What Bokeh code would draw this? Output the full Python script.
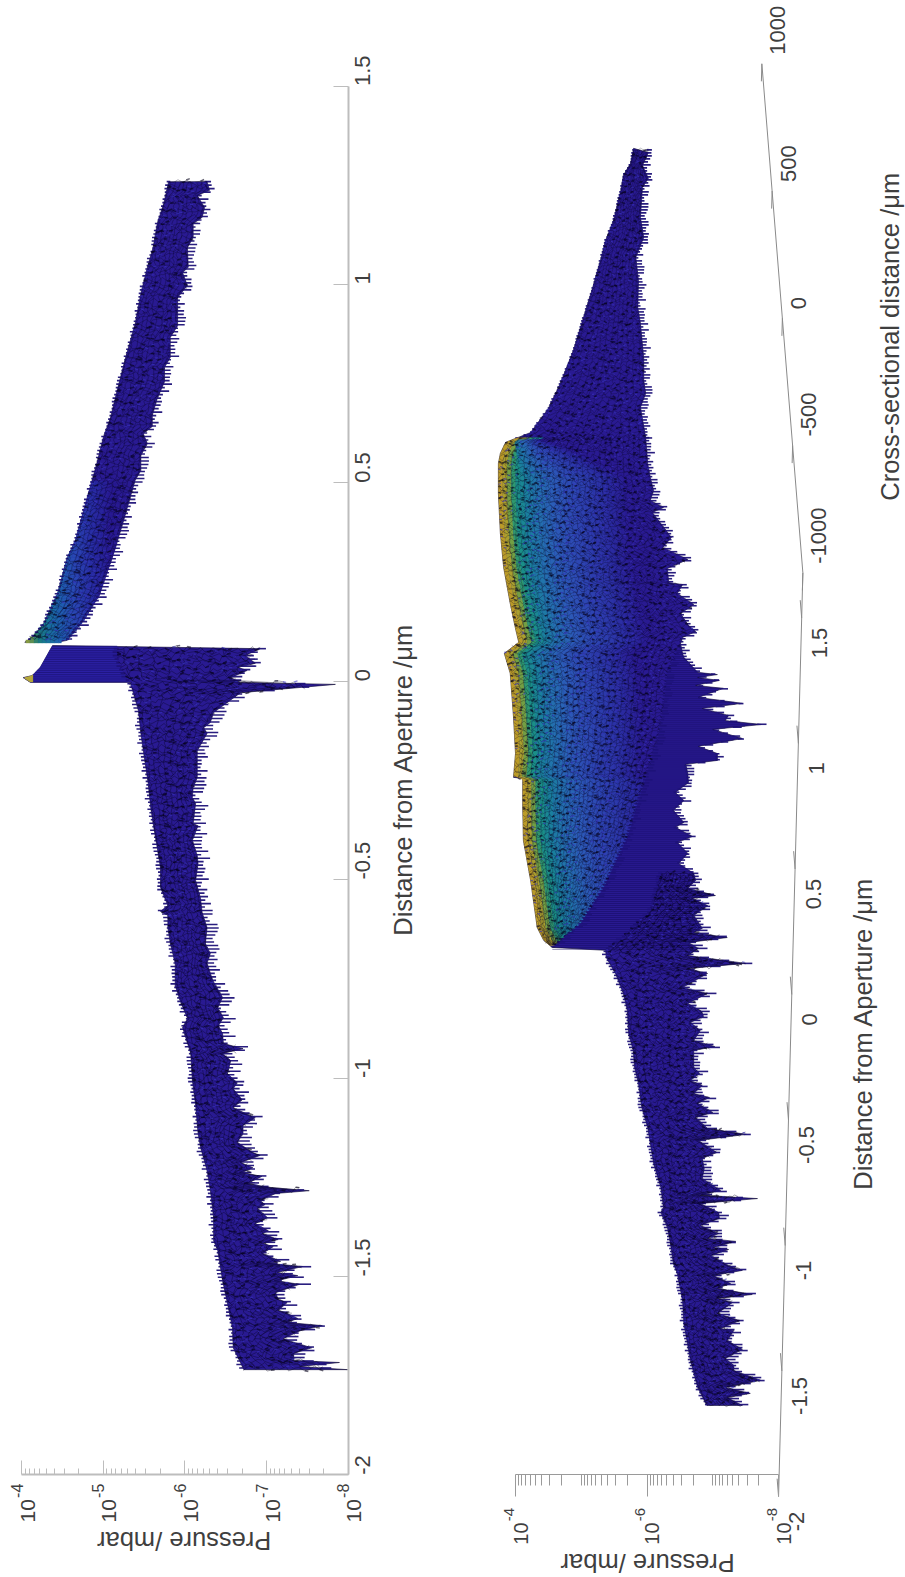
import math
import numpy as np
from bokeh.core.properties import value
from bokeh.embed import file_html
from bokeh.layouts import row
from bokeh.models import FixedTicker, Range1d
from bokeh.plotting import figure
from bokeh.resources import INLINE

# ---------- values (distance in um, pressure as log10 mbar) ----------
PRESSURE_TICKS = [-4, -5, -6, -7, -8]
DISTANCE_TICKS = [-2, -1.5, -1, -0.5, 0, 0.5, 1, 1.5]
DISTANCE_LABELS = ["-2", "-1.5", "-1", "-0.5", "0", "0.5", "1", "1.5"]
CROSS_TICKS = [-1000, -500, 0, 500, 1000]
CROSS_LABELS = ["-1000", "-500", "0", "500", "1000"]

# top panel: wing beyond the aperture
TOP_UP_LEFT_D = [1.259,1.204,1.153,1.093,1.043,0.977,0.901,0.813,0.733,0.665,0.614,0.556,0.488,0.423,0.355,0.312,0.221,0.145,0.115,0.098]
TOP_UP_LEFT_E = [-5.80,-5.74,-5.66,-5.61,-5.54,-5.46,-5.39,-5.27,-5.17,-5.09,-5.00,-4.93,-4.84,-4.75,-4.66,-4.56,-4.44,-4.27,-4.15,-4.04]
TOP_UP_RIGHT_D = [1.259,1.237,1.224,1.194,1.169,1.153,1.118,1.093,1.043,1.030,0.997,0.967,0.927,0.896,0.866,0.816,0.791,0.755,0.712,0.670,0.642,0.624,0.599,0.569,0.531,0.506,0.463,0.405,0.337,0.312,0.246,0.216,0.153,0.103,0.098]
TOP_UP_RIGHT_E = [-6.27,-6.30,-6.15,-6.24,-6.21,-6.10,-6.10,-6.03,-6.04,-5.97,-6.03,-5.91,-5.91,-5.91,-5.82,-5.82,-5.75,-5.75,-5.66,-5.60,-5.60,-5.49,-5.54,-5.46,-5.46,-5.39,-5.33,-5.25,-5.15,-5.11,-5.00,-4.95,-4.76,-4.56,-4.44]
# top panel: wing before the aperture
TOP_LOW_LEFT_D = [0.090,0.035,0.014,0.009,-0.003,-0.003,-0.031,-0.074,-0.132,-0.175,-0.258,-0.318,-0.359,-0.419,-0.470,-0.520,-0.565,-0.580,-0.590,-0.621,-0.661,-0.711,-0.767,-0.805,-0.850,-0.873,-0.938,-1.006,-1.069,-1.140,-1.175,-1.233,-1.283,-1.352,-1.410,-1.435,-1.511,-1.569,-1.629,-1.680,-1.735]
TOP_LOW_LEFT_E = [-4.38,-4.23,-4.13,-4.02,-4.11,-5.33,-5.37,-5.43,-5.46,-5.49,-5.55,-5.58,-5.61,-5.66,-5.70,-5.70,-5.79,-5.70,-5.79,-5.79,-5.82,-5.88,-5.88,-5.94,-6.03,-5.97,-6.07,-6.09,-6.13,-6.16,-6.19,-6.27,-6.31,-6.35,-6.35,-6.40,-6.46,-6.52,-6.58,-6.59,-6.72]
TOP_LOW_RIGHT_D = [0.082,0.065,0.045,0.035,0.027,0.009,-0.003,-0.008,-0.029,-0.079,-0.104,-0.117,-0.132,-0.175,-0.243,-0.268,-0.293,-0.308,-0.359,-0.364,-0.401,-0.439,-0.460,-0.502,-0.547,-0.583,-0.621,-0.661,-0.686,-0.711,-0.754,-0.797,-0.823,-0.848,-0.868,-0.888,-0.913,-0.926,-0.938,-0.956,-0.989,-1.012,-1.027,-1.055,-1.075,-1.100,-1.120,-1.140,-1.162,-1.188,-1.195,-1.213,-1.226,-1.238,-1.248,-1.266,-1.276,-1.284,-1.291,-1.309,-1.319,-1.329,-1.352,-1.367,-1.385,-1.392,-1.407,-1.417,-1.425,-1.442,-1.462,-1.467,-1.475,-1.490,-1.498,-1.511,-1.520,-1.541,-1.558,-1.566,-1.586,-1.591,-1.606,-1.616,-1.624,-1.637,-1.657,-1.667,-1.680,-1.694,-1.712,-1.717,-1.727,-1.735]
TOP_LOW_RIGHT_E = [-6.92,-6.74,-6.86,-6.65,-6.76,-6.56,-6.68,-7.84,-6.68,-6.35,-6.31,-6.23,-6.27,-6.15,-6.15,-6.10,-6.09,-6.13,-6.10,-6.16,-6.09,-6.15,-6.16,-6.13,-6.19,-6.21,-6.27,-6.25,-6.31,-6.27,-6.34,-6.46,-6.40,-6.47,-6.41,-6.46,-6.47,-6.71,-6.46,-6.56,-6.52,-6.64,-6.59,-6.70,-6.59,-6.86,-6.71,-6.71,-6.64,-6.83,-6.92,-6.68,-6.83,-6.70,-6.94,-6.76,-7.05,-7.52,-7.11,-6.92,-6.98,-6.89,-7.01,-6.86,-7.02,-6.95,-7.14,-6.96,-7.08,-6.95,-7.17,-7.02,-7.44,-7.13,-7.38,-7.13,-7.40,-7.11,-7.14,-7.25,-7.14,-7.23,-7.38,-7.25,-7.68,-7.41,-7.20,-7.35,-7.55,-7.33,-7.33,-7.89,-7.41,-7.99]
TOP_STEP_D = [0.085,0.052,-0.003]
TOP_STEP_E = [-5.17,-5.17,-5.31]

# lower panel (silhouette, distance as seen at cross-section 0)
LOW_LEFT_D = [2.356,2.295,2.246,2.185,2.063,1.982,1.900,1.778,1.657,1.535,1.400,1.299,1.201,1.161,1.116,1.075,0.953,0.791,0.652,0.506,0.404,0.348,0.303,0.222,0.043,-0.104,-0.201,-0.205,-0.323,-0.457,-0.620,-0.811,-0.864,-0.892]
LOW_LEFT_E = [-5.795,-5.75,-5.64,-5.60,-5.49,-5.37,-5.29,-5.16,-5.02,-4.88,-4.68,-4.50,-4.23,-3.85,-3.77,-3.74,-3.74,-3.77,-3.82,-3.92,-4.00,-4.05,-3.83,-3.92,-3.97,-4.00,-3.97,-4.11,-4.11,-4.12,-4.23,-4.33,-4.43,-4.56]
LOW_WING_D = [-0.904,-0.933,-0.998,-1.079,-1.148,-1.242,-1.311,-1.380,-1.445,-1.543,-1.624,-1.689,-1.770,-1.868,-1.949,-1.970,-2.030,-2.104,-2.177,-2.217,-2.327,-2.421,-2.571,-2.681,-2.754]
LOW_WING_E = [-5.37,-5.38,-5.52,-5.64,-5.70,-5.72,-5.79,-5.81,-5.87,-5.92,-6.01,-6.05,-6.10,-6.21,-6.25,-6.21,-6.31,-6.36,-6.40,-6.46,-6.54,-6.56,-6.66,-6.77,-6.91]
LOW_RIGHT_D = [2.339,2.287,2.234,2.197,2.075,1.994,1.913,1.819,1.709,1.644,1.502,1.413,1.360,1.303,1.181,1.075,1.018,0.965,0.925,0.896,0.876,0.831,0.774,0.734,0.685,0.648,0.591,0.583,0.547,0.502,0.465,0.417,0.392,0.368,0.343,0.303,0.287,0.226,0.217,0.205,0.193,0.173,0.161,0.124,0.100,0.079,0.051,0.030,0.014,-0.006,-0.043,-0.075,-0.104,-0.132,-0.148,-0.185,-0.222,-0.262,-0.295,-0.335,-0.384,-0.404,-0.441,-0.465,-0.510,-0.551,-0.591,-0.620,-0.652,-0.681,-0.693,-0.722,-0.762,-0.815,-0.831,-0.852,-0.872,-0.896,-0.925,-0.957,-0.978,-0.998,-1.055,-1.079,-1.120,-1.152,-1.173,-1.197,-1.230,-1.270,-1.295,-1.311,-1.380,-1.404,-1.433,-1.453,-1.486,-1.502,-1.526,-1.563,-1.583,-1.628,-1.652,-1.677,-1.726,-1.750,-1.791,-1.831,-1.880,-1.900,-1.913,-1.933,-1.970,-1.994,-2.022,-2.055,-2.075,-2.087,-2.112,-2.120,-2.144,-2.185,-2.205,-2.226,-2.258,-2.278,-2.303,-2.319,-2.335,-2.380,-2.409,-2.441,-2.449,-2.490,-2.526,-2.563,-2.591,-2.612,-2.652,-2.681,-2.705,-2.722,-2.754]
LOW_RIGHT_E = [-6.02,-5.93,-6.02,-5.93,-5.90,-5.95,-5.83,-5.87,-5.86,-5.90,-5.95,-5.95,-5.98,-5.90,-5.98,-6.01,-6.05,-6.10,-6.05,-6.25,-6.08,-6.21,-6.37,-6.24,-6.62,-6.31,-6.33,-6.54,-6.46,-6.71,-6.51,-6.63,-6.74,-6.54,-6.51,-6.54,-6.56,-6.77,-7.07,-6.77,-7.10,-6.74,-7.16,-6.78,-7.45,-6.84,-7.24,-7.19,-7.74,-7.00,-7.45,-6.78,-7.07,-7.07,-6.59,-6.62,-6.63,-6.43,-6.56,-6.40,-6.56,-6.43,-6.69,-6.46,-6.62,-6.48,-6.71,-6.74,-6.62,-7.04,-6.69,-6.92,-6.71,-6.84,-6.71,-7.22,-6.63,-6.78,-6.62,-7.50,-6.62,-6.92,-6.54,-6.92,-6.62,-6.83,-6.86,-6.66,-6.81,-6.71,-7.03,-6.71,-6.71,-6.80,-6.66,-6.84,-6.71,-6.95,-6.77,-7.00,-6.74,-6.92,-7.51,-6.78,-7.06,-6.84,-6.87,-6.84,-7.12,-6.81,-7.68,-6.81,-7.09,-7.10,-6.81,-7.09,-6.92,-7.35,-7.01,-7.24,-6.97,-7.24,-7.45,-7.01,-7.27,-7.07,-7.60,-7.07,-7.30,-7.07,-7.41,-7.12,-7.32,-7.22,-7.45,-7.19,-7.32,-7.32,-7.73,-7.19,-7.57,-7.22,-7.45]
LOW_INNER_D = [0.315,0.222,0.083,-0.051,-0.226,-0.445,-0.648,-0.795,-0.892]
LOW_INNER_E = [-6.46,-6.31,-6.25,-6.16,-5.95,-5.70,-5.34,-4.99,-4.56]
LOW_BACK_D = [-0.591,-0.742,-0.843,-0.904]
LOW_BACK_E = [-6.21,-6.05,-5.67,-5.37]

# ---------- style ----------
FONT = "Liberation Sans"
TEXT = "#3f3f3f"
BASE = "#291a92"
FLAT = "#2b20a4"
TOP_LEVELS = [-4.0, -4.1, -4.2, -4.3, -4.45, -4.65, -4.85, -5.1]
TOP_RGB = [(181,168,58), (120,150,70), (30,125,120), (24,120,150), (30,100,175), (42,72,180), (42,48,168), (41,26,146)]
BAND_STOPS = [0, .11, .17, .23, .30, .43, .61, .84, 1.14, 1.52, 1.98]
BAND_RGB = [(196,154,37), (168,160,48), (111,159,69), (47,154,112), (26,143,138), (27,127,159), (36,112,176), (44,92,184), (46,72,180), (44,52,168), (41,26,146)]
# hand-typed irregular offsets that roughen the wire-frame cells (drawing texture only)
GRAIN = [.31,-.72,.55,-.18,.93,-.44,.12,-.86,.67,-.29,.41,-.63,.82,-.07,.24,-.95,.58,-.36,.76,-.51,.03,.89,-.22,-.68,.47,.15,-.79,.62,-.11,.35,-.9,.71,-.4,.2,.97,-.57,-.02,.52,-.83,.28,.64,-.33,-.75,.85,.09,-.48,.38,-.16,.78,-.61,.44,-.97,.17,.6,-.26,.91,-.7,.06,-.38,.5,-.14]
G = len(GRAIN)


def edge(q, D, E):
    D, E = np.asarray(D, float), np.asarray(E, float)
    o = np.argsort(D, kind="stable")
    return np.interp(q, D[o], E[o])


def outline(p, D, E):
    p.patch(10.0 ** np.asarray(E), D, fill_color=BASE, line_color="#0c0630", line_width=0.7, line_alpha=0.85)


def teeth(p, ds, a, fringe, inward, seed):
    tx, ty = [], []
    for i, (d, b) in enumerate(zip(ds, a)):
        g = GRAIN[(i * 5 + seed) % G]
        tx.append(list(10.0 ** np.array([b + inward, b - fringe * (0.25 + abs(g))])))
        ty.append([d, d])
    p.multi_line(tx, ty, line_color="#1d1278", line_width=1.6, line_alpha=0.95)


def mesh(p, d_hi, d_lo, dstep, eL, eR, espace, ncols, alpha=0.5, fringe=0.10, lfringe=0.0, color_light="#3a34c4"):
    ds = np.arange(d_hi, d_lo, -dstep)
    L, R = eL(ds), eR(ds)
    xs, ys, dx, dy, lx, ly = [], [], [], [], [], []
    for i, (d, a, b) in enumerate(zip(ds, L, R)):
        n = max(2, int((a - b) / espace))
        e_row, d_row = [], []
        for j in range(n + 1):
            g1, g2 = GRAIN[(i * 7 + j * 3) % G], GRAIN[(i * 11 + j * 5 + 17) % G]
            e_v = a + (b - a) * j / n + (0.45 * espace * g1 if 0 < j < n else 0)
            d_v = d + dstep * 0.9 * g2
            e_row.append(e_v)
            d_row.append(d_v)
            if j < n:
                g3 = GRAIN[(i * 13 + j * 17 + 5) % G]
                if g3 > 0.5:
                    dx.append(list(10.0 ** np.array([e_v, e_v - espace * 0.8])))
                    dy.append([d_v, d_v + dstep * 0.5 * g1])
                elif g3 < -0.72:
                    lx.append(list(10.0 ** np.array([e_v, e_v - espace * 0.7])))
                    ly.append([d_v, d_v - dstep * 0.4 * g1])
        xs.append(10.0 ** np.array(e_row))
        ys.append(d_row)
    for k, f in enumerate(np.linspace(0.05, 0.95, ncols)):
        off = np.array([0.4 * espace * GRAIN[(i * 3 + k * 19) % G] for i in range(len(ds))])
        xs.append(10.0 ** (L + f * (R - L) + off))
        ys.append(ds)
    teeth(p, ds, R, fringe, 0.03, 9)
    if lfringe:
        teeth(p, ds, L, -lfringe, -0.02, 2)
    p.multi_line(xs, ys, line_color="#070320", line_width=0.6, line_alpha=alpha)
    p.multi_line(lx, ly, line_color=color_light, line_width=1.2, line_alpha=0.6)
    p.multi_line(dx, dy, line_color="#05021a", line_width=1.5, line_alpha=0.6)


def strip(p, ds, a, b, color):
    ok = a > b
    if ok.sum() < 2:
        return
    xs = np.concatenate([a[ok], b[ok][::-1]])
    ys = np.concatenate([ds[ok], ds[ok][::-1]])
    p.patch(10.0 ** xs, ys, fill_color=color, line_color=color, line_width=0.3)


def streaks(p, d_hi, d_lo, dstep, eL, eR):
    ds = np.arange(d_hi, d_lo, -dstep)
    xs = [[10.0 ** a, 10.0 ** b] for a, b in zip(eL(ds), eR(ds))]
    ys = [[d, d] for d in ds]
    p.multi_line(xs, ys, line_color="#120a58", line_width=0.6, line_alpha=0.75)


def base_fig(width, y_range, x_start, x_end, yloc):
    p = figure(width=width, height=1577, x_axis_type="log", x_range=Range1d(x_start, x_end), y_range=y_range,
               output_backend="svg", toolbar_location=None, y_axis_location=yloc,
               min_border_left=0, min_border_right=0, min_border_top=0, min_border_bottom=0)
    p.grid.visible = False
    p.outline_line_color = None
    p.background_fill_color = "white"
    p.border_fill_color = "white"
    return p


def text(p, e, y, s, angle, size, dx=0, dy=0, align="center"):
    p.text([10.0 ** e], [y], text=[s], angle=angle, x_offset=dx, y_offset=dy, text_align=align,
           text_baseline="middle", text_font=value(FONT), text_font_size=size, text_color=TEXT)


def pressure_axis(p, majors, color, lw, tin, tout, mtin, mtout, y_edge, size10, sizeexp, off10, offexp, dx10, dxexp):
    ax = p.xaxis[0]
    ax.fixed_location = y_edge
    minors = [10.0 ** (k + math.log10(m)) for k in range(-8, -4) for m in range(2, 10)]
    if len(majors) < 5:
        minors += [1e-5, 1e-7]
    ax.ticker = FixedTicker(ticks=[10.0 ** k for k in majors], minor_ticks=minors)
    ax.bounds = (1e-8, 1e-4)
    ax.axis_line_color = color
    ax.axis_line_width = lw
    ax.major_tick_line_color = color
    ax.minor_tick_line_color = color
    ax.major_tick_line_width = 1
    ax.minor_tick_line_width = 1
    ax.major_tick_in, ax.major_tick_out = tin, tout
    ax.minor_tick_in, ax.minor_tick_out = mtin, mtout
    ax.major_label_text_font_size = "0px"
    ax.major_label_text_color = None
    for k in majors:
        text(p, k, y_edge, "10", math.pi / 2, size10, dx10, off10)
        text(p, k, y_edge, str(k), math.pi / 2, sizeexp, dxexp, offexp)


# ---------- top panel: 396.6 px per distance unit, 81.75 px per decade ----------
p1 = base_fig(450, Range1d(-2.2588, 1.7155), 10 ** -3.743, 10 ** -9.248, "right")
pressure_axis(p1, PRESSURE_TICKS, "#bdbdbd", 2, 14, 0, 6, 0, -2, "21px", "16px", 36, 16, 6, -5)
ya = p1.yaxis[0]
ya.fixed_location = 1e-8
ya.bounds = (-2, 1.5)
ya.ticker = FixedTicker(ticks=DISTANCE_TICKS)
ya.major_label_overrides = dict(zip(DISTANCE_TICKS, DISTANCE_LABELS))
ya.minor_tick_line_color = None
ya.axis_line_color = "#bdbdbd"
ya.axis_line_width = 2
ya.major_tick_line_color = "#bdbdbd"
ya.major_tick_line_width = 1
ya.major_tick_in, ya.major_tick_out = 15, 0
ya.major_label_orientation = math.pi / 2
ya.major_label_standoff = 14
ya.major_label_text_font = FONT
ya.major_label_text_font_size = "22px"
ya.major_label_text_color = TEXT

outline(p1, TOP_UP_LEFT_D + TOP_UP_RIGHT_D[::-1], TOP_UP_LEFT_E + TOP_UP_RIGHT_E[::-1])
outline(p1, TOP_LOW_LEFT_D + TOP_LOW_RIGHT_D[::-1], TOP_LOW_LEFT_E + TOP_LOW_RIGHT_E[::-1])

# colour by pressure near the tip of the upper wing
left_q, right_q, top_q, bot_q, col_q = [], [], [], [], []
for d in np.arange(0.5, 0.098, -0.008):
    a = float(edge(d, TOP_UP_LEFT_D, TOP_UP_LEFT_E))
    b = float(edge(d, TOP_UP_RIGHT_D, TOP_UP_RIGHT_E))
    e = a
    while e > b and e > -5.15:
        e2 = max(e - 0.05, b)
        mid = 0.5 * (e + e2)
        rgb = [int(np.interp(-mid, [-v for v in TOP_LEVELS], [c[i] for c in TOP_RGB])) for i in range(3)]
        left_q.append(10.0 ** e)
        right_q.append(10.0 ** e2)
        top_q.append(d + 0.004)
        bot_q.append(d - 0.004)
        col_q.append("#%02x%02x%02x" % tuple(rgb))
        e = e2
p1.quad(left=left_q, right=right_q, top=top_q, bottom=bot_q, fill_color=col_q, line_color=col_q, line_width=0.3)

mesh(p1, 1.259, 0.098, 0.0088,
     lambda d: edge(d, TOP_UP_LEFT_D, TOP_UP_LEFT_E), lambda d: edge(d, TOP_UP_RIGHT_D, TOP_UP_RIGHT_E), 0.055, 9,
     fringe=0.09, lfringe=0.03)

# flat sheet next to the aperture
flat = np.arange(0.088, -0.003, -0.003)
fl = edge(flat, TOP_LOW_LEFT_D[:5], TOP_LOW_LEFT_E[:5])
fr = edge(flat, TOP_STEP_D, TOP_STEP_E)
strip(p1, flat, fl, fr, FLAT)
streaks(p1, 0.088, -0.003, 0.0055, lambda d: edge(d, TOP_LOW_LEFT_D[:5], TOP_LOW_LEFT_E[:5]),
        lambda d: edge(d, TOP_STEP_D, TOP_STEP_E))
strip(p1, flat, fl, np.maximum(fr, -4.14), "#b5a83a")

low_in_d = TOP_STEP_D + TOP_LOW_LEFT_D[6:]
low_in_e = TOP_STEP_E + TOP_LOW_LEFT_E[6:]
mesh(p1, 0.082, -1.735, 0.0088,
     lambda d: edge(d, low_in_d, low_in_e), lambda d: edge(d, TOP_LOW_RIGHT_D, TOP_LOW_RIGHT_E), 0.055, 9,
     alpha=0.6, fringe=0.13, lfringe=0.05)

text(p1, -8.67, -0.248, "Distance from Aperture /μm", math.pi / 2, "25.5px")
text(p1, -5.99, -2.166, "Pressure /mbar", math.pi, "25.5px")

# ---------- lower panel: 246 px per silhouette distance unit, 65.75 px per decade ----------
SCALE = 246.0
p2 = base_fig(455, Range1d(-3.4533, 2.957), 10 ** -3.0114, 10 ** -9.93, None)
pressure_axis(p2, [-4, -6, -8], "#9a9a9a", 1, 0, 22, 0, 11, -3.035, "20px", "15px", 59, 40, 5, -7)


def axis_point(d, c):
    """Box-axis position (log10 pressure, silhouette distance) of distance d, cross-section c."""
    e = -8 - ((d + 2) * 6.6 - (c + 1000) * 0.0205) / 65.75
    y = -3.124 + 1.0203 * (d + 2) + (c + 1000) * 0.2545 / SCALE
    return e, y


edge_line = dict(line_color="#8a8a8a", line_width=1)
e0, y0 = axis_point(-2, -1000)
e1, y1 = axis_point(1.68, -1000)
e2, y2 = axis_point(1.68, 1000)
p2.line(10.0 ** np.array([e0, e1, e2]), [y0, y1, y2], **edge_line)
for d, lab in zip(DISTANCE_TICKS, DISTANCE_LABELS):
    e, y = axis_point(d, -1000)
    e_t, y_t = axis_point(d, -930)
    p2.line(10.0 ** np.array([e, e_t]), [y, y_t], **edge_line)
    text(p2, e, y, lab, math.pi / 2, "22px", 18, 25)
for c, lab in zip(CROSS_TICKS, CROSS_LABELS):
    e, y = axis_point(1.68, c)
    e_t, y_t = axis_point(1.61, c)
    p2.line(10.0 ** np.array([e, e_t]), [y, y_t], **edge_line)
    text(p2, e, y, lab, math.pi / 2, "22px", 16, -9, "left")

outline(p2, LOW_LEFT_D + LOW_WING_D + LOW_RIGHT_D[::-1], LOW_LEFT_E + LOW_WING_E + LOW_RIGHT_E[::-1])

eL = lambda d: edge(d, LOW_LEFT_D, LOW_LEFT_E)
eR = lambda d: edge(d, LOW_RIGHT_D, LOW_RIGHT_E)
eI = lambda d: edge(d, LOW_INNER_D, LOW_INNER_E)
eB = lambda d: np.where(d > 0.315, eR(d), np.maximum(eI(d), eR(d)))
eW = lambda d: edge(d, LOW_BACK_D + LOW_WING_D[1:], LOW_BACK_E + LOW_WING_E[1:])

streaks(p2, 0.315, -0.90, 0.0081, eI, eR)
edge_rows = np.arange(0.315, -0.59, -0.012)
teeth(p2, edge_rows, eR(edge_rows), 0.10, 0.03, 4)
mesh(p2, 2.35, 1.17, 0.0122, eL, eB, 0.05, 12, alpha=0.42, fringe=0.10, lfringe=0.02)

rows2 = np.arange(1.18, -0.892, -0.008)
L2, B2 = eL(rows2), eB(rows2)
taper = np.clip((1.18 - rows2) / 0.17, 0, 1) ** 0.5
fine = np.linspace(0, BAND_STOPS[-1], 31)
for w0, w1 in zip(fine[:-1], fine[1:]):
    mid = 0.5 * (w0 + w1)
    rgb = [int(np.interp(mid, BAND_STOPS, [c[i] for c in BAND_RGB])) for i in range(3)]
    hex_c = "#%02x%02x%02x" % tuple(rgb)
    k = np.where(w0 < 0.35, 1.0, taper)
    strip(p2, rows2, np.maximum(L2 - w0 * k, B2), np.maximum(L2 - w1 * k, B2), hex_c)
mesh(p2, 1.18, -0.892, 0.0122, eL, eB, 0.05, 24, alpha=0.46, fringe=0.10)
mesh(p2, -0.591, -2.754, 0.0122, eW, eR, 0.05, 9, alpha=0.6, fringe=0.13, lfringe=0.05)

text(p2, -9.29, -1.242, "Distance from Aperture /μm", math.pi / 2, "25.5px")
text(p2, -9.69, 1.59, "Cross-sectional distance /μm", math.pi / 2, "25.5px")
text(p2, -6.01, -3.396, "Pressure /mbar", math.pi, "25.5px")

open("out.html", "w").write(file_html(row(p1, p2), INLINE))
